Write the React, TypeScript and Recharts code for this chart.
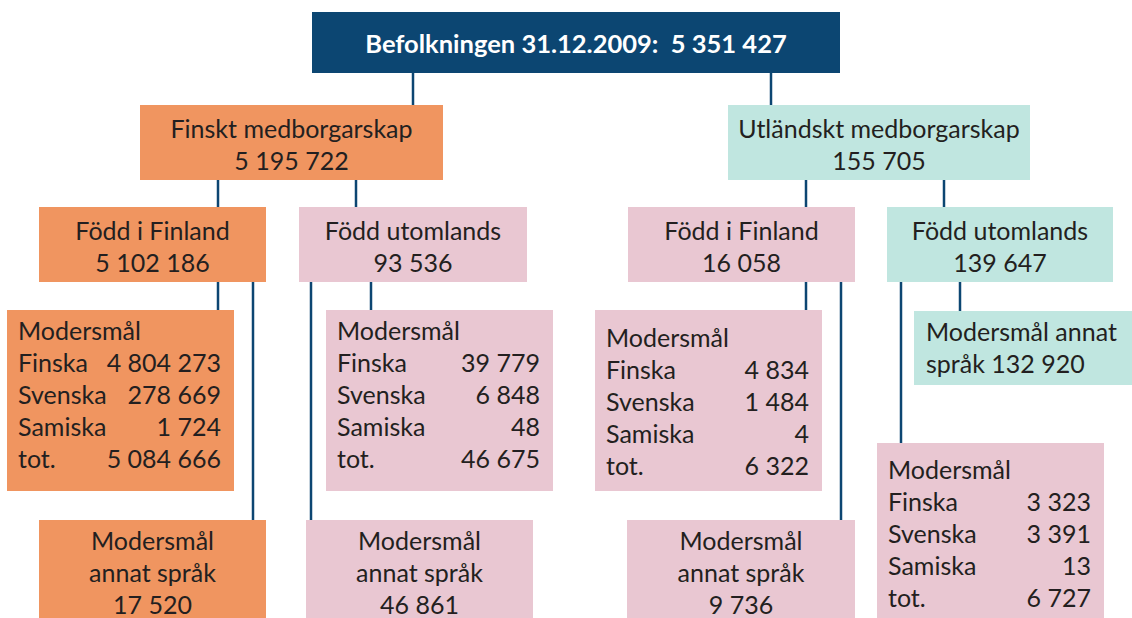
import { ComposedChart, XAxis, YAxis, ReferenceArea, ReferenceLine } from "recharts";

// population figures
const populationDate = "31.12.2009";
const populationTotal = 5351427;
const citizenshipLabels = ["Finskt medborgarskap", "Utländskt medborgarskap"];
const citizenshipTotals = [5195722, 155705];
const birthLabels = ["Född i Finland", "Född utomlands", "Född i Finland", "Född utomlands"];
const birthTotals = [5102186, 93536, 16058, 139647];
const languageLabels = ["Finska", "Svenska", "Samiska", "tot."];
const finnishBornFinland = [4804273, 278669, 1724, 5084666];
const finnishBornAbroad = [39779, 6848, 48, 46675];
const foreignBornFinland = [4834, 1484, 4, 6322];
const foreignBornAbroad = [3323, 3391, 13, 6727];
const otherLanguageTotals = [17520, 46861, 9736, 132920];

const W = 1132;
const H = 618;
const NAVY = "#0c4672";
const ORANGE = "#f09560";
const PINK = "#e9c7d2";
const MINT = "#c0e6e0";
const INK = "#231f20";
const FONT = "Lato, 'Open Sans', sans-serif";
const FS = 25;
const STEP = 32;

const fmt = (n: number) => String(n).replace(/\B(?=(\d{3})+(?!\d))/g, " ");

// box layout (pixel frame of the diagram)
const topBox = { x1: 312, x2: 840, y1: 12, y2: 73 };
const levelOne = [
  { x1: 140, x2: 443, y1: 105, y2: 180, fill: ORANGE },
  { x1: 728, x2: 1030, y1: 105, y2: 180, fill: MINT },
];
const levelTwo = [
  { x1: 39, x2: 266, y1: 207, y2: 282, fill: ORANGE },
  { x1: 299, x2: 527, y1: 207, y2: 282, fill: PINK },
  { x1: 628, x2: 855, y1: 207, y2: 282, fill: PINK },
  { x1: 887, x2: 1113, y1: 207, y2: 282, fill: MINT },
];
const tables = [
  { x1: 7, x2: 234, y1: 310, y2: 491, fill: ORANGE, first: 30, values: finnishBornFinland },
  { x1: 326, x2: 553, y1: 310, y2: 491, fill: PINK, first: 30, values: finnishBornAbroad },
  { x1: 595, x2: 822, y1: 310, y2: 491, fill: PINK, first: 37, values: foreignBornFinland },
  { x1: 877, x2: 1104, y1: 443, y2: 618, fill: PINK, first: 36, values: foreignBornAbroad },
];
const otherBoxes = [
  { x1: 39, x2: 266, y1: 520, y2: 618, fill: ORANGE },
  { x1: 306, x2: 533, y1: 520, y2: 618, fill: PINK },
  { x1: 627, x2: 855, y1: 520, y2: 618, fill: PINK },
];
const mintNote = { x1: 914, x2: 1132, y1: 311, y2: 385, fill: MINT };

// connectors: x, from y, to y
const connectors = [
  [413, 73, 105], [771, 73, 105],
  [218, 180, 207], [356, 180, 207], [806, 180, 207], [944, 180, 207],
  [218, 282, 310], [253, 282, 520], [311, 282, 520], [371, 282, 310],
  [806, 282, 310], [841, 282, 520], [901, 282, 443], [960, 282, 311],
];

const CenterLines = ({ viewBox, lines, first }: any) => {
  const { x, y, width } = viewBox;
  return (
    <g>
      {lines.map((t: string, i: number) => (
        <text key={i} x={x + width / 2} y={y + first + i * STEP} textAnchor="middle"
          fontFamily={FONT} fontSize={FS} fill={INK}>{t}</text>
      ))}
    </g>
  );
};

const LeftLines = ({ viewBox, lines, first }: any) => {
  const { x, y } = viewBox;
  return (
    <g>
      {lines.map((t: string, i: number) => (
        <text key={i} x={x + 12} y={y + first + i * STEP}
          fontFamily={FONT} fontSize={FS} fill={INK}>{t}</text>
      ))}
    </g>
  );
};

const Table = ({ viewBox, values, first }: any) => {
  const { x, y, width } = viewBox;
  return (
    <g fontFamily={FONT} fontSize={FS} fill={INK}>
      <text x={x + 11} y={y + first}>Modersmål</text>
      {languageLabels.map((l, i) => (
        <g key={l}>
          <text x={x + 11} y={y + first + (i + 1) * STEP}>{l}</text>
          <text x={x + width - 13} y={y + first + (i + 1) * STEP} textAnchor="end">{fmt(values[i])}</text>
        </g>
      ))}
    </g>
  );
};

const TopTitle = ({ viewBox }: any) => {
  const { x, y, width } = viewBox;
  return (
    <text x={x + width / 2} y={y + 41} textAnchor="middle" fontFamily={FONT} fontWeight={700}
      fontSize={25.5} fill="#ffffff" style={{ whiteSpace: "pre" }}>
      {`Befolkningen ${populationDate}:  ${fmt(populationTotal)}`}
    </text>
  );
};

export default function App() {
  return (
    <div style={{ position: "fixed", left: 0, top: 0, width: W, height: H, background: "#fff" }}>
      <ComposedChart width={W} height={H} data={[]} margin={{ top: 0, right: 0, bottom: 0, left: 0 }}>
        <XAxis type="number" dataKey="x" domain={[0, W]} hide allowDataOverflow />
        <YAxis type="number" dataKey="y" domain={[0, H]} reversed hide allowDataOverflow />
        {connectors.map(([cx, a, b], i) => (
          <ReferenceLine key={`c${i}`} segment={[{ x: cx, y: a }, { x: cx, y: b }]}
            stroke={NAVY} strokeWidth={2.5} ifOverflow="visible" />
        ))}
        <ReferenceArea {...topBox} fill={NAVY} fillOpacity={1} stroke="none"
          label={(p: any) => <TopTitle viewBox={p.viewBox} />} />
        {levelOne.map((b, i) => (
          <ReferenceArea key={`l1${i}`} x1={b.x1} x2={b.x2} y1={b.y1} y2={b.y2} fill={b.fill} fillOpacity={1} stroke="none"
            label={(p: any) => <CenterLines viewBox={p.viewBox} first={33}
              lines={[citizenshipLabels[i], fmt(citizenshipTotals[i])]} />} />
        ))}
        {levelTwo.map((b, i) => (
          <ReferenceArea key={`l2${i}`} x1={b.x1} x2={b.x2} y1={b.y1} y2={b.y2} fill={b.fill} fillOpacity={1} stroke="none"
            label={(p: any) => <CenterLines viewBox={p.viewBox} first={33}
              lines={[birthLabels[i], fmt(birthTotals[i])]} />} />
        ))}
        {tables.map((b, i) => (
          <ReferenceArea key={`t${i}`} x1={b.x1} x2={b.x2} y1={b.y1} y2={b.y2} fill={b.fill} fillOpacity={1} stroke="none"
            label={(p: any) => <Table viewBox={p.viewBox} first={b.first} values={b.values} />} />
        ))}
        {otherBoxes.map((b, i) => (
          <ReferenceArea key={`o${i}`} x1={b.x1} x2={b.x2} y1={b.y1} y2={b.y2} fill={b.fill} fillOpacity={1} stroke="none"
            label={(p: any) => <CenterLines viewBox={p.viewBox} first={30}
              lines={["Modersmål", "annat språk", fmt(otherLanguageTotals[i])]} />} />
        ))}
        <ReferenceArea {...mintNote} fillOpacity={1} stroke="none"
          label={(p: any) => <LeftLines viewBox={p.viewBox} first={30}
            lines={["Modersmål annat", `språk ${fmt(otherLanguageTotals[3])}`]} />} />
      </ComposedChart>
    </div>
  );
}
